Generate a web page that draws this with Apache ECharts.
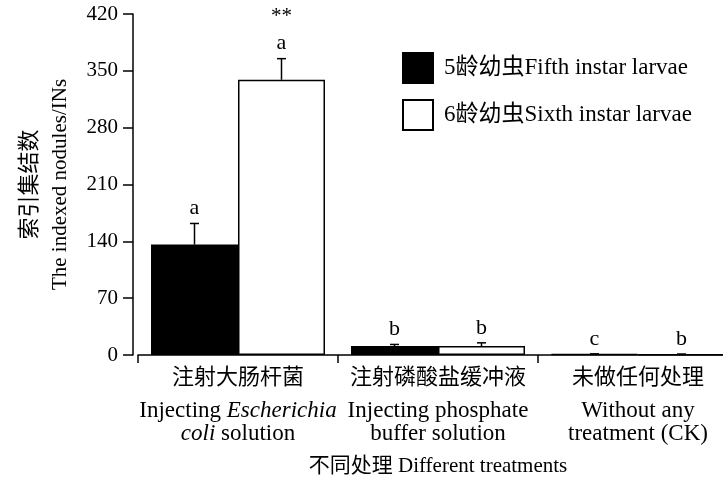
<!DOCTYPE html>
<html>
<head>
<meta charset="utf-8">
<script src="https://cdn.jsdelivr.net/npm/echarts@6/dist/echarts.min.js"></script>
<style>
html,body{margin:0;padding:0;background:#fff;}
#chart{width:723px;height:478px;}
</style>
</head>
<body>
<div id="chart"></div>
<script>
// ---- data ----
var categories = ['注射大肠杆菌', '注射磷酸盐缓冲液', '未做任何处理'];
var catEnLine1 = ['Injecting {i|Escherichia}', 'Injecting phosphate', 'Without any'];
var catEnLine2 = ['{i|coli} solution', 'buffer solution', 'treatment (CK)'];
var seriesNames = ['5龄幼虫Fifth instar larvae', '6龄幼虫Sixth instar larvae'];
var fifthMean = [136, 11, 1];
var fifthErr = [26, 2, 0.4];
var sixthMean = [339, 11, 0.8];
var sixthErr = [26, 4, 0.4];
var fifthLetters = ['a', 'b', 'c'];
var sixthLetters = ['a', 'b', 'b'];
var sixthSig = ['**', '', ''];
var yTicks = [0, 70, 140, 210, 280, 350, 420];

var FONT = '"Liberation Serif", "Times New Roman", "Noto Sans CJK SC", serif';
var GAP = 0.13;

function errSeries(means, errs, letters, sig, side) {
  var data = means.map(function (m, i) { return [i, m, errs[i], letters[i], sig[i]]; });
  return {
    type: 'custom',
    z: 10,
    silent: true,
    clip: false,
    data: data,
    renderItem: function (params, api) {
      var idx = api.value(0);
      var m = api.value(1);
      var e = api.value(2);
      var d = data[params.dataIndex];
      var band = api.size([1, 0])[0];
      var bw = band * (1 - GAP) / 2;
      var base = api.coord([idx, m]);
      var top = api.coord([idx, m + e]);
      var x = base[0] + side * bw / 2;
      var cap = 4.5;
      var children = [
        { type: 'line', shape: { x1: x, y1: base[1], x2: x, y2: top[1] }, style: { stroke: '#000', lineWidth: 1.5 } },
        { type: 'line', shape: { x1: x - cap, y1: top[1], x2: x + cap, y2: top[1] }, style: { stroke: '#000', lineWidth: 1.5 } },
        { type: 'text', x: x, y: top[1] - 4, style: { text: d[3], font: '22px ' + FONT, fill: '#000', align: 'center', verticalAlign: 'bottom' } }
      ];
      if (d[4]) {
        children.push({ type: 'text', x: x, y: top[1] - 32, style: { text: d[4], font: '21px ' + FONT, fill: '#000', align: 'center', verticalAlign: 'bottom' } });
      }
      return { type: 'group', children: children };
    }
  };
}

var chart = echarts.init(document.getElementById('chart'), null, { renderer: 'canvas' });
chart.setOption({
  animation: false,
  backgroundColor: '#fff',
  textStyle: { fontFamily: FONT, color: '#000' },
  grid: { left: 138, top: 14, width: 600, height: 341, containLabel: false, outerBoundsMode: 'none' },
  legend: {
    left: 397, top: 47, orient: 'vertical',
    itemWidth: 30, itemHeight: 30, itemGap: 15,
    icon: 'rect',
    textStyle: { fontSize: 23, fontFamily: FONT, color: '#000', padding: [0, 0, 0, 6] },
    data: seriesNames
  },
  xAxis: {
    type: 'category',
    data: categories,
    axisLine: { lineStyle: { color: '#000', width: 1.5 } },
    axisTick: { show: true, length: 8, lineStyle: { color: '#000', width: 1.5 } },
    axisLabel: {
      interval: 0,
      margin: 3,
      color: '#000',
      fontSize: 23,
      fontFamily: FONT,
      lineHeight: 23,
      formatter: function (v, i) {
        return '{zh|' + v + '}\n' + catEnLine1[i] + '\n' + catEnLine2[i];
      },
      rich: {
        zh: { fontSize: 22, lineHeight: 41, fontFamily: FONT, color: '#000' },
        i: { fontSize: 23, fontStyle: 'italic', fontFamily: FONT, color: '#000', lineHeight: 23 }
      }
    },
    name: '不同处理 Different treatments',
    nameLocation: 'middle',
    nameGap: 101,
    nameTextStyle: { fontSize: 21, fontFamily: FONT, color: '#000' }
  },
  yAxis: {
    type: 'value',
    min: 0, max: 420, interval: 70,
    offset: 5,
    splitLine: { show: false },
    axisLine: { show: true, lineStyle: { color: '#000', width: 1.5 } },
    axisTick: { show: true, length: 10, lineStyle: { color: '#000', width: 1.5 } },
    axisLabel: { fontSize: 21, fontFamily: FONT, color: '#000', margin: 15 },
    name: '{zh|索引集结数}\n{en|The indexed nodules/INs}',
    nameLocation: 'middle',
    nameRotate: 90,
    nameGap: 53,
    nameTextStyle: {
      fontSize: 21, fontFamily: FONT, color: '#000', lineHeight: 30,
      rich: {
        zh: { fontSize: 22, lineHeight: 30, fontFamily: FONT, color: '#000' },
        en: { fontSize: 21, lineHeight: 30, fontFamily: FONT, color: '#000' }
      }
    }
  },
  series: [
    {
      name: seriesNames[0], type: 'bar', data: fifthMean,
      barGap: '0%', barCategoryGap: (GAP * 100) + '%',
      itemStyle: { color: '#000', borderColor: '#000', borderWidth: 1.5 }
    },
    {
      name: seriesNames[1], type: 'bar', data: sixthMean,
      barGap: '0%', barCategoryGap: (GAP * 100) + '%',
      itemStyle: { color: '#fff', borderColor: '#000', borderWidth: 1.5 }
    },
    errSeries(fifthMean, fifthErr, fifthLetters, ['', '', ''], -1),
    errSeries(sixthMean, sixthErr, sixthLetters, sixthSig, 1)
  ]
});
</script>
</body>
</html>
